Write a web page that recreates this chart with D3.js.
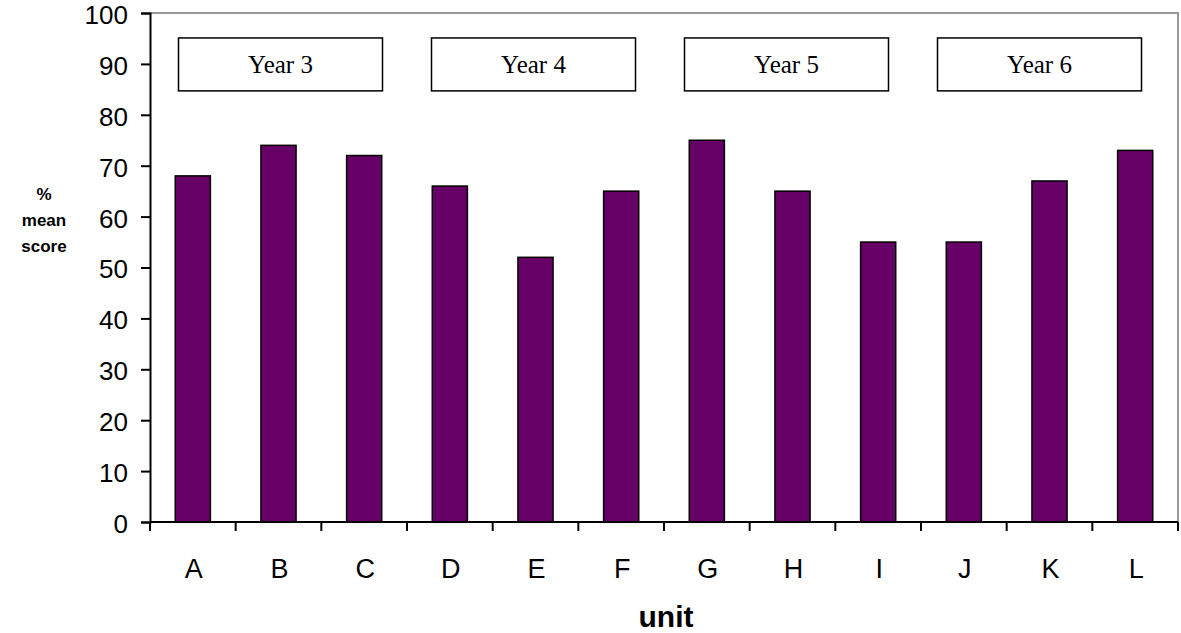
<!DOCTYPE html>
<html>
<head>
<meta charset="utf-8">
<script src="https://cdn.jsdelivr.net/npm/d3@7"></script>
<style>
  body { margin: 0; background: #fff; }
</style>
</head>
<body>
<script>
// chart data
var units = ["A", "B", "C", "D", "E", "F", "G", "H", "I", "J", "K", "L"];
var scores = [68, 74, 72, 66, 52, 65, 75, 65, 55, 55, 67, 73];
var yTicks = [0, 10, 20, 30, 40, 50, 60, 70, 80, 90, 100];
var yearLabels = ["Year 3", "Year 4", "Year 5", "Year 6"];

var svgWidth = 1181;
var svgHeight = 633;

var margin = { top: 13, right: 3, bottom: 111, left: 150 };
var width = svgWidth - margin.left - margin.right;
var height = svgHeight - margin.top - margin.bottom;

var sans = "'Liberation Sans', Arial, sans-serif";
var serif = "'Liberation Serif', 'Times New Roman', serif";

var svg = d3.select("body")
  .append("svg")
  .attr("width", svgWidth)
  .attr("height", svgHeight);

var chartGroup = svg.append("g")
  .attr("transform", `translate(${margin.left}, ${margin.top})`);

var xBandScale = d3.scaleBand()
  .domain(units)
  .range([0, width])
  .paddingInner(0.59)
  .paddingOuter(0.295);

// band scale with no padding, for tick marks between categories
var xCat = d3.scaleBand().domain(units).range([0, width]);

var yLinearScale = d3.scaleLinear()
  .domain([0, 100])
  .range([height, 0]);

// the year text boxes sit a little left of their unit groups
var xYear = d3.scalePoint()
  .domain(yearLabels)
  .range([130.5, 889.5]);

// plot frame: grey top and right
chartGroup.append("path")
  .attr("d", `M0,0H${width}V${height}`)
  .attr("fill", "none")
  .attr("stroke", "#999")
  .attr("stroke-width", 2);

// bars
chartGroup.selectAll("rect.bar")
  .data(units)
  .enter()
  .append("rect")
  .attr("class", "bar")
  .attr("x", d => xBandScale(d))
  .attr("width", xBandScale.bandwidth())
  .attr("y", (d, i) => yLinearScale(scores[i]))
  .attr("height", (d, i) => height - yLinearScale(scores[i]))
  .attr("fill", "#660066")
  .attr("stroke", "#000")
  .attr("stroke-width", 1.5);

// year boxes
var yearGroups = chartGroup.selectAll("g.year")
  .data(yearLabels)
  .enter()
  .append("g")
  .attr("class", "year");

yearGroups.append("rect")
  .attr("x", d => xYear(d) - 102)
  .attr("y", yLinearScale(95.1))
  .attr("width", 204)
  .attr("height", yLinearScale(84.7) - yLinearScale(95.1))
  .attr("fill", "#fff")
  .attr("stroke", "#000")
  .attr("stroke-width", 1.5);

yearGroups.append("text")
  .attr("x", d => xYear(d))
  .attr("y", yLinearScale(89.9))
  .attr("dy", "0.35em")
  .attr("text-anchor", "middle")
  .attr("font-family", serif)
  .attr("font-size", 25)
  .text(d => d);

// y axis
var leftAxis = d3.axisLeft(yLinearScale)
  .tickValues(yTicks)
  .tickSize(9)
  .tickPadding(13);

var yAxisG = chartGroup.append("g").call(leftAxis);
yAxisG.select(".domain").attr("stroke-width", 2);
yAxisG.selectAll(".tick line").attr("stroke-width", 2);
yAxisG.selectAll(".tick text")
  .attr("font-family", sans)
  .attr("font-size", 26)
  .attr("dy", "0.4em")
  .attr("fill", "#000");

// x axis
var xAxisG = chartGroup.append("g")
  .attr("transform", `translate(0, ${height})`);

xAxisG.append("line")
  .attr("x1", 0).attr("x2", width)
  .attr("stroke", "#000")
  .attr("stroke-width", 2);

xAxisG.selectAll("line.cat")
  .data(units.concat(["end"]))
  .enter()
  .append("line")
  .attr("class", "cat")
  .attr("x1", (d, i) => i < units.length ? xCat(d) : width)
  .attr("x2", (d, i) => i < units.length ? xCat(d) : width)
  .attr("y1", 0)
  .attr("y2", 9)
  .attr("stroke", "#000")
  .attr("stroke-width", 2);

xAxisG.selectAll("text.cat")
  .data(units)
  .enter()
  .append("text")
  .attr("class", "cat")
  .attr("x", d => xCat(d) + xCat.bandwidth() / 2 + 1)
  .attr("y", 56)
  .attr("text-anchor", "middle")
  .attr("font-family", sans)
  .attr("font-size", 27)
  .text(d => d);

// axis labels
chartGroup.append("text")
  .attr("x", width / 2 + 2)
  .attr("y", height + 105)
  .attr("text-anchor", "middle")
  .attr("font-family", sans)
  .attr("font-weight", "bold")
  .attr("font-size", 30)
  .text("unit");

var yLabel = svg.append("text")
  .attr("text-anchor", "middle")
  .attr("font-family", sans)
  .attr("font-weight", "bold")
  .attr("font-size", 17);

["%", "mean", "score"].forEach(function(t, i) {
  yLabel.append("tspan")
    .attr("x", 44)
    .attr("y", 200 + i * 26)
    .text(t);
});
</script>
</body>
</html>
